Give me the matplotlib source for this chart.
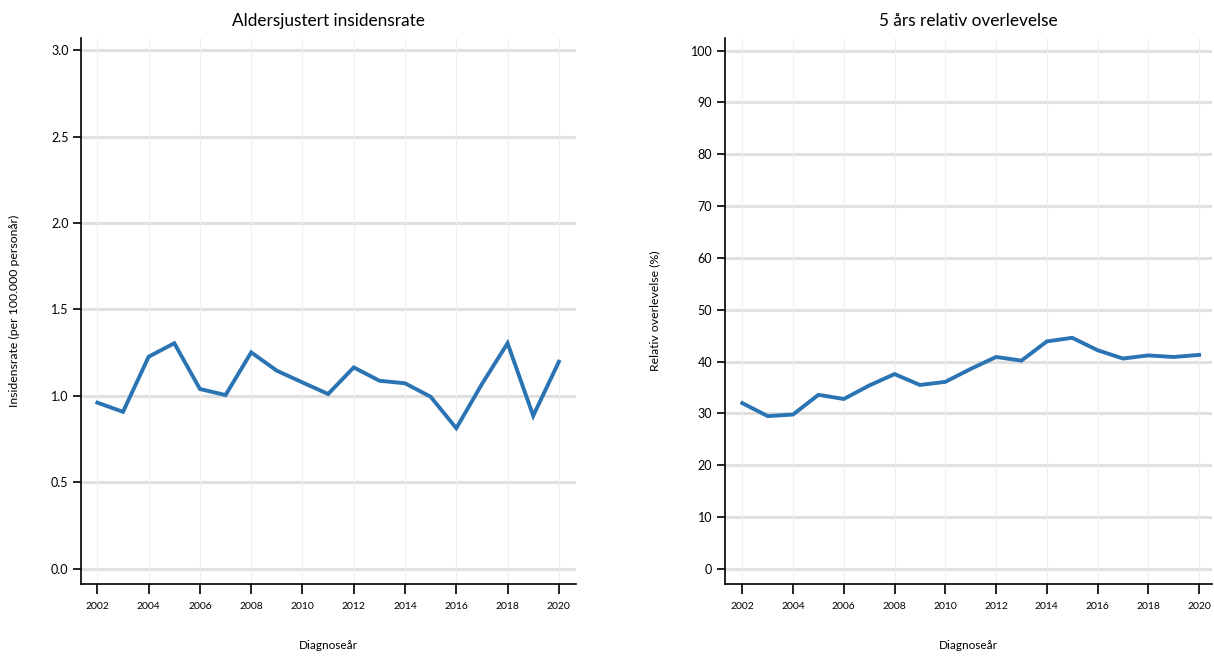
import matplotlib
matplotlib.use("Agg")
import matplotlib.pyplot as plt

plt.rcParams['font.family'] = ['Lato', 'DejaVu Sans']

aar = list(range(2002, 2021))
insidens = [0.96, 0.907, 1.226, 1.304, 1.039, 1.004, 1.251, 1.145, 1.077, 1.010,
            1.164, 1.087, 1.072, 0.994, 0.812, 1.068, 1.304, 0.884, 1.197]
overlevelse = [32.0, 29.5, 29.8, 33.6, 32.8, 35.4, 37.6, 35.5, 36.1, 38.6,
               40.9, 40.2, 43.9, 44.6, 42.2, 40.6, 41.2, 40.9, 41.3]
x_ticks = list(range(2002, 2021, 2))

blaa = '#2a74b4'

fig = plt.figure(figsize=(12.14, 6.57), dpi=100)
ax1 = fig.add_axes([0.0667, 0.111, 0.408, 0.831])
ax2 = fig.add_axes([0.597, 0.111, 0.401, 0.831])


def tegn(ax, y, tittel, ylabel, yticks, ylim, xlim, fmt):
    ax.set_axisbelow(True)
    for yt in yticks:
        ax.axhline(yt, color='#e0e0e0', lw=2.2, zorder=0)
    for xt in x_ticks:
        ax.axvline(xt, color='#efefef', lw=0.8, zorder=0)
    ax.plot(aar, y, color=blaa, lw=2.8, solid_joinstyle='miter', zorder=3)
    ax.set_xlim(*xlim)
    ax.set_ylim(*ylim)
    ax.set_xticks(x_ticks)
    ax.set_yticks(yticks)
    ax.set_yticklabels([fmt.format(v) for v in yticks])
    ax.tick_params(axis='x', labelsize=7.5, length=7, width=1.2, pad=6)
    ax.tick_params(axis='y', labelsize=9, length=6, width=1.2, pad=3)
    for s in ['top', 'right']:
        ax.spines[s].set_visible(False)
    for s in ['left', 'bottom']:
        ax.spines[s].set_linewidth(1.2)
    ax.set_title(tittel, fontsize=12.4, pad=9)
    ax.set_xlabel('Diagnoseår', fontsize=8.5, labelpad=21)
    ax.set_ylabel(ylabel, fontsize=8.8, labelpad=22)


tegn(ax1, insidens, 'Aldersjustert insidensrate',
     'Insidensrate (per 100.000 personår)',
     [0.0, 0.5, 1.0, 1.5, 2.0, 2.5, 3.0], (-0.09, 3.07), (2001.36, 2020.68), '{:.1f}')
tegn(ax2, overlevelse, '5 års relativ overlevelse',
     'Relativ overlevelse (%)',
     list(range(0, 101, 10)), (-2.9, 102.4), (2001.31, 2020.49), '{:d}')

fig.savefig('out.png', dpi=100)
